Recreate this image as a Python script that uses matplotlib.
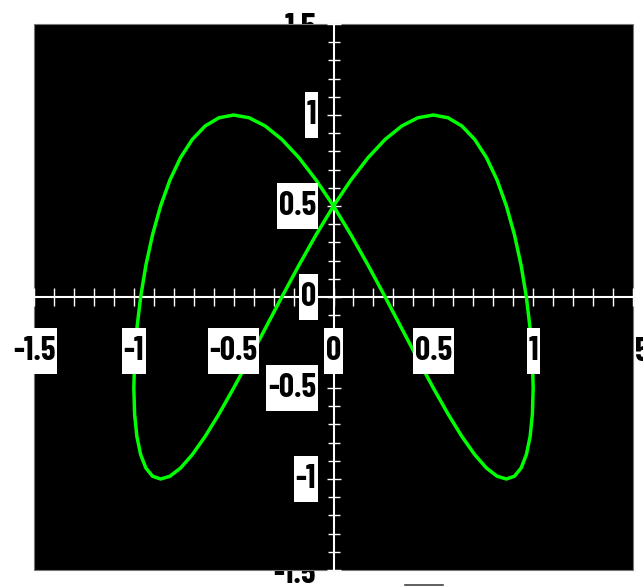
import matplotlib.pyplot as plt
from matplotlib.lines import Line2D
from matplotlib.path import Path
from matplotlib.ticker import MultipleLocator

# figure-eight curve, right lobe then left lobe
curve_x = [0.0, 0.0872, 0.1736, 0.2588, 0.342, 0.4226, 0.5, 0.5736, 0.6428, 0.7071,
           0.766, 0.8192, 0.866, 0.9063, 0.9397, 0.9659, 0.9848, 0.9962, 1.0,
           0.9962, 0.9848, 0.9659, 0.9397, 0.9063, 0.866, 0.8192, 0.766, 0.7071,
           0.6428, 0.5736, 0.5, 0.4226, 0.342, 0.2588, 0.1736, 0.0872, 0.0,
           -0.0872, -0.1736, -0.2588, -0.342, -0.4226, -0.5, -0.5736, -0.6428, -0.7071,
           -0.766, -0.8192, -0.866, -0.9063, -0.9397, -0.9659, -0.9848, -0.9962, -1.0,
           -0.9962, -0.9848, -0.9659, -0.9397, -0.9063, -0.866, -0.8192, -0.766, -0.7071,
           -0.6428, -0.5736, -0.5, -0.4226, -0.342, -0.2588, -0.1736, -0.0872, 0.0]
curve_y = [0.5, 0.6428, 0.766, 0.866, 0.9397, 0.9848, 1.0, 0.9848, 0.9397, 0.866,
           0.766, 0.6428, 0.5, 0.342, 0.1736, 0.0, -0.1736, -0.342, -0.5,
           -0.6428, -0.766, -0.866, -0.9397, -0.9848, -1.0, -0.9848, -0.9397, -0.866,
           -0.766, -0.6428, -0.5, -0.342, -0.1736, 0.0, 0.1736, 0.342, 0.5,
           0.6428, 0.766, 0.866, 0.9397, 0.9848, 1.0, 0.9848, 0.9397, 0.866,
           0.766, 0.6428, 0.5, 0.342, 0.1736, 0.0, -0.1736, -0.342, -0.5,
           -0.6428, -0.766, -0.866, -0.9397, -0.9848, -1.0, -0.9848, -0.9397, -0.866,
           -0.766, -0.6428, -0.5, -0.342, -0.1736, 0.0, 0.1736, 0.342, 0.5]

x_labels = [-1.5, -1, -0.5, 0, 0.5, 1, 1.5]
y_labels = [1, 0.5, 0, -0.5, -1]
y_edge_labels = [1.5, -1.5]

W, H = 643, 586
FONT = ['Barlow Condensed', 'DejaVu Sans']


def tall_box(x0, y0, width, height, mutation_size):
    # narrow on the sides, roomy above and below
    px = 0.05 * mutation_size
    py = 0.24 * mutation_size
    x0, y0 = x0 - px, y0 - py
    x1, y1 = x0 + width + 2 * px, y0 + height + 2 * py
    return Path([(x0, y0), (x1, y0), (x1, y1), (x0, y1), (x0, y0)], closed=True)


fig = plt.figure(figsize=(W / 100, H / 100), dpi=100)
fig.patch.set_facecolor('white')
ax = fig.add_axes([34 / W, 16 / H, 599 / W, 546 / H])
ax.set_facecolor('black')
ax.patch.set_edgecolor('#777777')
ax.patch.set_linewidth(0.8)
ax.set_xlim(-1.5, 1.5)
ax.set_ylim(-1.5, 1.5)

for side in ['top', 'right']:
    ax.spines[side].set_visible(False)
for side in ['left', 'bottom']:
    ax.spines[side].set_position('zero')
    ax.spines[side].set_color('white')
    ax.spines[side].set_linewidth(1.5)
    ax.spines[side].set_zorder(2)

ax.xaxis.set_major_locator(MultipleLocator(0.5))
ax.xaxis.set_minor_locator(MultipleLocator(0.1))
ax.yaxis.set_major_locator(MultipleLocator(0.5))
ax.yaxis.set_minor_locator(MultipleLocator(0.1))
ax.tick_params(axis='x', which='both', direction='inout', length=13, width=1.0,
               color='white', labelbottom=False)
ax.tick_params(axis='y', which='major', direction='inout', length=10.5, width=1.0,
               color='white', labelleft=False)
ax.tick_params(axis='y', which='minor', direction='inout', length=9, width=1.0,
               color='white', labelleft=False)

ax.plot(curve_x, curve_y, color='#00ff00', lw=2.5, zorder=3, clip_on=False)

box = dict(boxstyle=tall_box, fc='white', ec='none')
txt = dict(fontsize=24, fontweight=700, family=FONT, color='black')


def fmt(v):
    return f'{v:g}'


for v in x_labels:
    if v == 1.5:
        # right-most label sits under the plot area
        fig.text(634 / W, 1 - 352 / H, fmt(v), ha='center', va='center', zorder=-1, **txt)
        continue
    ax.text(v, -0.297, fmt(v), ha='center', va='center', bbox=box, clip_on=False,
            zorder=5, **txt)

for v in y_labels:
    ax.text(-0.088, v, fmt(v), ha='right', va='center', bbox=box, clip_on=False,
            zorder=5, **txt)

for v, py in zip(y_edge_labels, [28, 574]):
    fig.text(316 / W, 1 - py / H, fmt(v), ha='right', va='center', zorder=-1, **txt)

fig.add_artist(Line2D([405 / W, 443 / W], [1.5 / H, 1.5 / H], color='#444444', lw=1.2))

fig.savefig('out.png', dpi=100, facecolor='white')
